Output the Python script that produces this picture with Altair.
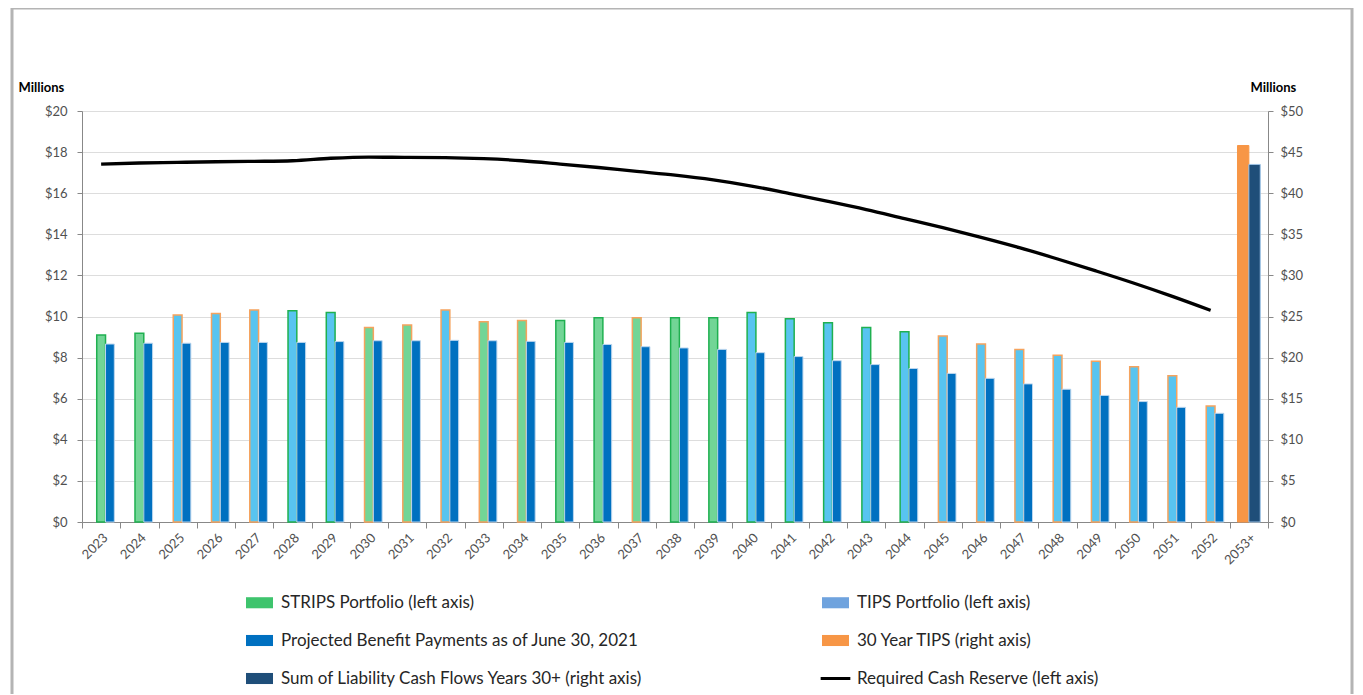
import altair as alt
import pandas as pd

years = [str(y) for y in range(2023, 2053)] + ["2053+"]
bar_years = years[:30]

# Portfolio bar (left axis, $ millions) and which portfolio fills / outlines it
portfolio = [9.10, 9.18, 10.07, 10.15, 10.32, 10.28, 10.20, 9.47, 9.59, 10.32,
             9.75, 9.80, 9.80, 9.94, 9.94, 9.94, 9.94, 10.19, 9.89, 9.70,
             9.47, 9.26, 9.05, 8.66, 8.40, 8.11, 7.82, 7.56, 7.12, 5.64]
portfolio_fill = ["STRIPS", "STRIPS", "TIPS", "TIPS", "TIPS", "TIPS", "TIPS", "STRIPS", "STRIPS", "TIPS",
                  "STRIPS", "STRIPS", "STRIPS", "STRIPS", "STRIPS", "STRIPS", "STRIPS", "TIPS", "TIPS", "TIPS",
                  "TIPS", "TIPS", "TIPS", "TIPS", "TIPS", "TIPS", "TIPS", "TIPS", "TIPS", "TIPS"]
portfolio_edge = ["STRIPS", "STRIPS", "TIPS", "TIPS", "TIPS", "STRIPS", "STRIPS", "TIPS", "TIPS", "TIPS",
                  "TIPS", "TIPS", "STRIPS", "STRIPS", "TIPS", "STRIPS", "STRIPS", "STRIPS", "STRIPS", "STRIPS",
                  "STRIPS", "STRIPS", "TIPS", "TIPS", "TIPS", "TIPS", "TIPS", "TIPS", "TIPS", "TIPS"]
benefit = [8.66, 8.70, 8.70, 8.74, 8.74, 8.74, 8.78, 8.82, 8.82, 8.84,
           8.82, 8.79, 8.74, 8.64, 8.53, 8.47, 8.40, 8.24, 8.05, 7.85,
           7.66, 7.47, 7.23, 6.99, 6.72, 6.46, 6.16, 5.86, 5.58, 5.29]
reserve = [17.41, 17.47, 17.50, 17.53, 17.55, 17.58, 17.70, 17.76, 17.74, 17.73,
           17.68, 17.58, 17.42, 17.25, 17.06, 16.88, 16.65, 16.35, 15.98, 15.60,
           15.20, 14.76, 14.32, 13.85, 13.35, 12.80, 12.22, 11.62, 10.98, 10.30]
tips30 = [45.8]      # right axis
sum30 = [43.5]       # right axis

# legend entries, listed column by column (left column, then right column)
series_names = ["STRIPS Portfolio (left axis)",
                "Projected Benefit Payments as of June 30, 2021",
                "Sum of Liability Cash Flows Years 30+ (right axis)",
                "TIPS Portfolio (left axis)",
                "30 Year TIPS (right axis)",
                "Required Cash Reserve (left axis)"]
legend_colors = ["#3ec46d", "#0070c0", "#1f4e79", "#6fa3de", "#f79646", "#000000"]
box = "M-1,-0.41H1V0.41H-1Z"
legend_shapes = [box, box, box, box, box, "M-1.1,-0.11H1.1V0.11H-1.1Z"]

df_port = pd.DataFrame({"year": bar_years, "value": portfolio, "fillk": portfolio_fill,
                        "edgek": portfolio_edge, "slot": "port"})
df_ben = pd.DataFrame({"year": bar_years, "value": benefit, "slot": "ben"})
df_line = pd.DataFrame({"year": bar_years, "value": reserve})
df_right = pd.DataFrame({"year": [years[-1], years[-1]], "value": [tips30[0], sum30[0]],
                         "kind": ["tips30", "sum30"], "slot": ["a", "b"]})
df_leg = pd.DataFrame({"series": series_names, "year": years[0], "value": [None] * 6})
df_frame = pd.DataFrame({"k": [0]})

FONT = "Lato"
GRAY_TXT = "#505050"

x_enc = alt.X("year:N", scale=alt.Scale(domain=years, paddingInner=0, paddingOuter=0),
              axis=alt.Axis(title=None, labelAngle=-45, tickBand="extent", tickSize=6,
                            labelFontSize=13, labelColor=GRAY_TXT, labelPadding=3))

y_left = alt.Y("value:Q", scale=alt.Scale(domain=[0, 20], nice=False),
               axis=alt.Axis(values=list(range(0, 21, 2)), format="$,.0f", title="Millions",
                             titleAngle=0, titleAlign="left", titleBaseline="middle",
                             titleX=-64, titleY=-24, titleFontWeight="bold", titleFontSize=13,
                             titleColor="#000000", grid=True, tickSize=5, labelPadding=10,
                             labelFontSize=13, labelColor=GRAY_TXT))
y_right = alt.Y("value:Q", scale=alt.Scale(domain=[0, 50], nice=False),
                axis=alt.Axis(orient="right", values=list(range(0, 51, 5)), format="$,.0f",
                              title="Millions", titleAngle=0, titleAlign="left",
                              titleBaseline="middle", titleX=-18, titleY=-24,
                              titleFontWeight="bold", titleFontSize=13, titleColor="#000000",
                              grid=False, tickSize=5, labelPadding=7, labelFontSize=13,
                              labelColor=GRAY_TXT))

xoff_left = alt.XOffset("slot:N", scale=alt.Scale(domain=["pad", "port", "ben"],
                                                  paddingInner=0, paddingOuter=0.675))
xoff_right = alt.XOffset("slot:N", scale=alt.Scale(domain=["a", "b"],
                                                   paddingInner=0, paddingOuter=0.68))

frame = alt.Chart(df_frame).mark_rect(filled=False, stroke="#b4b4b4", strokeWidth=3).encode(
    x=alt.value(-70), x2=alt.value(1270), y=alt.value(-103), y2=alt.value(700))

port_bars = alt.Chart(df_port).mark_bar(strokeWidth=1.5).encode(
    x=x_enc, xOffset=xoff_left, y=y_left,
    fill=alt.Fill("fillk:N", scale=alt.Scale(domain=["STRIPS", "TIPS"], range=["#72d596", "#58c4f0"]),
                  legend=None),
    stroke=alt.Stroke("edgek:N", scale=alt.Scale(domain=["STRIPS", "TIPS"], range=["#1fb050", "#f5a35e"]),
                      legend=None))

ben_bars = alt.Chart(df_ben).mark_bar(fill="#0070c0", stroke="#bcd6ee", strokeWidth=1).encode(
    x=x_enc, xOffset=xoff_left, y=y_left)

line = alt.Chart(df_line).mark_line(color="#000000", strokeWidth=3.3, interpolate="monotone").encode(
    x=x_enc, y=y_left)

leg = alt.Legend(title=None, orient="none", legendX=164, legendY=478,
                 columns=2, columnPadding=177, rowPadding=16,
                 symbolSize=729, symbolStrokeWidth=0, labelFontSize=17,
                 labelFont=FONT, labelColor="#262626", labelOffset=8, labelLimit=700)

legend_pts = alt.Chart(df_leg).mark_point(filled=True, opacity=1).encode(
    x=x_enc, y=y_left,
    color=alt.Color("series:N", scale=alt.Scale(domain=series_names, range=legend_colors),
                    legend=leg),
    shape=alt.Shape("series:N", scale=alt.Scale(domain=series_names, range=legend_shapes),
                    legend=leg))

right_bars = alt.Chart(df_right).mark_bar().encode(
    x=x_enc, xOffset=xoff_right, y=y_right,
    fill=alt.Fill("kind:N", scale=alt.Scale(domain=["tips30", "sum30"], range=["#f79646", "#1f4e79"]),
                  legend=None),
    stroke=alt.Stroke("kind:N", scale=alt.Scale(domain=["tips30", "sum30"], range=["#f79646", "#9dc3e6"]),
                      legend=None))

left = alt.layer(frame, port_bars, ben_bars, line, legend_pts)
right = alt.layer(right_bars)

chart = alt.layer(left, right).resolve_scale(
    y="independent", xOffset="independent", fill="independent", stroke="independent"
).properties(
    width=1186, height=411,
    autosize=alt.AutoSizeParams(type="none"),
    padding={"left": 74, "top": 103, "right": 87, "bottom": 172},
).configure_view(stroke=None).configure_axis(
    domainColor="#868686", tickColor="#868686", gridColor="#a6a6a6", gridWidth=1.2,
    labelFont=FONT, titleFont=FONT
).configure(font=FONT)

chart.save("out.html", embed_options={"renderer": "svg", "actions": False})
